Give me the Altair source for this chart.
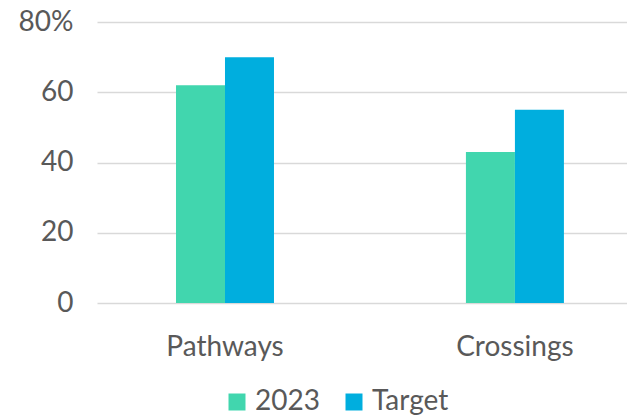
import altair as alt
import pandas as pd

categories = ["Pathways", "Crossings"]
series = ["2023", "Target"]
values_2023 = [62, 43]
values_target = [70, 55]
colors = ["#41D6AE", "#00AEDE"]

rows = []
for i, c in enumerate(categories):
    rows.append({"category": c, "series": series[0], "value": values_2023[i]})
    rows.append({"category": c, "series": series[1], "value": values_target[i]})
df = pd.DataFrame(rows)

FONT = "Lato"
GRAY = "#595959"
FS = 28

chart = alt.Chart(df).mark_bar().encode(
    x=alt.X("category:N", sort=categories, title=None,
            scale=alt.Scale(paddingInner=0.662, paddingOuter=0.245, align=0.556),
            axis=alt.Axis(labelAngle=0, labelFontSize=FS, labelColor=GRAY, labelFont=FONT,
                          ticks=False, domain=False, labelPadding=30)),
    xOffset=alt.XOffset("series:N", sort=series, scale=alt.Scale(paddingInner=0, paddingOuter=0)),
    y=alt.Y("value:Q", title=None,
            scale=alt.Scale(domain=[0, 80], nice=False),
            axis=alt.Axis(values=[0, 20, 40, 60, 80],
                          labelExpr="datum.value == 80 ? '80%' : datum.label",
                          labelFontSize=FS, labelColor=GRAY, labelFont=FONT,
                          ticks=False, domain=False, labelPadding=24,
                          gridColor="#d9d9d9", gridWidth=1.5)),
    color=alt.Color("series:N", sort=series,
                    scale=alt.Scale(domain=series, range=colors),
                    legend=alt.Legend(title=None, orient="none", direction="horizontal",
                                      legendX=126, legendY=366,
                                      symbolType="square", symbolSize=289,
                                      symbolStrokeWidth=0, labelFontSize=FS,
                                      labelColor=GRAY, labelFont=FONT,
                                      labelOffset=4, columnPadding=20)),
).properties(
    width=530, height=281,
    autosize=alt.AutoSizeParams(type="none"),
    padding={"left": 89, "top": 14, "right": 0, "bottom": 116},
).configure_view(stroke=None)

chart.save("out.html", embed_options={"renderer": "svg", "actions": False})
